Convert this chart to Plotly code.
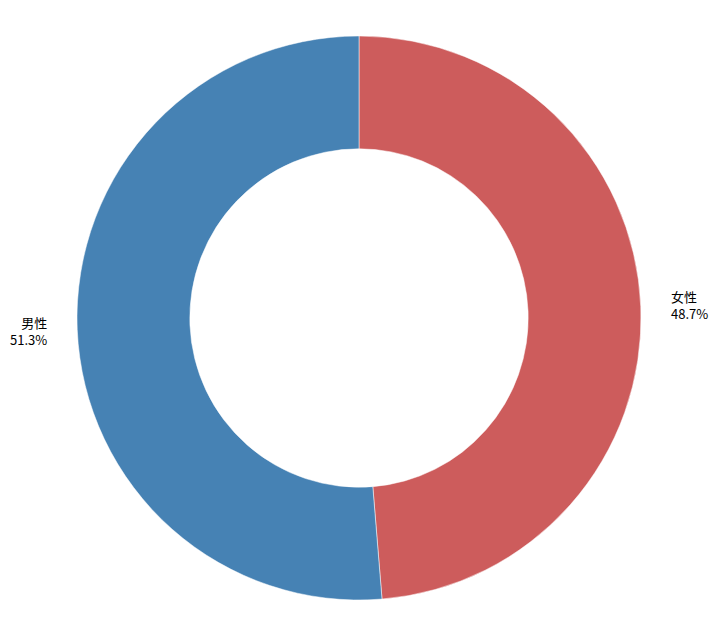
import math
import plotly.graph_objects as go

labels = ["女性", "男性"]
values = [48.7, 51.3]
colors = ["#CD5C5C", "#4682B4"]

W, H = 702, 620
ML, MR, MT, MB = 69, 69, 28, 28
PW, PH = W - ML - MR, H - MT - MB
LABEL_R = 310  # px from centre to label anchor

fig = go.Figure(go.Pie(
    labels=labels,
    values=values,
    hole=0.6,
    sort=False,
    direction="clockwise",
    rotation=0,
    marker=dict(colors=colors, line=dict(color="white", width=0.5)),
    textinfo="none",
    hoverinfo="label+percent",
    showlegend=False,
))

total = sum(values)
cum = 0.0
annotations = []
for lab, v in zip(labels, values):
    mid = (cum + v / 2) / total * 2 * math.pi
    cum += v
    dx = math.sin(mid) * LABEL_R
    dy = math.cos(mid) * LABEL_R
    right = dx >= 0
    annotations.append(dict(
        x=0.5 + dx / PW, y=0.5 + dy / PH, xref="paper", yref="paper",
        text=f"{lab}<br>{v / total * 100:.1f}%",
        showarrow=False,
        xanchor="left" if right else "right",
        yanchor="middle",
        align="left" if right else "right",
        font=dict(family="Noto Sans CJK SC", size=13, color="#000000"),
    ))

fig.update_layout(
    width=W, height=H,
    margin=dict(l=ML, r=MR, t=MT, b=MB),
    paper_bgcolor="white",
    plot_bgcolor="white",
    font=dict(family="Noto Sans CJK SC"),
    annotations=annotations,
)
fig.write_html("out.html")
